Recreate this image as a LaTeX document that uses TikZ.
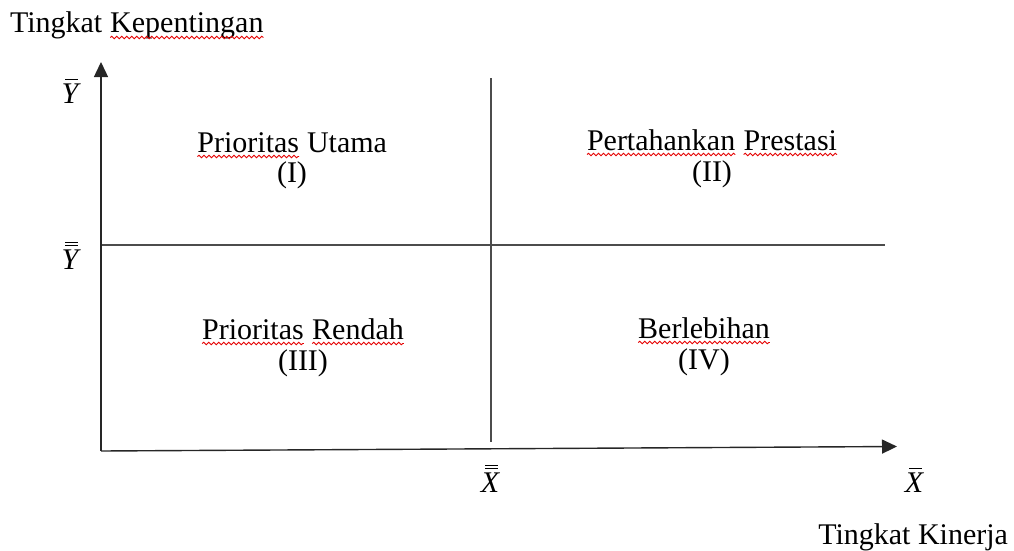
\documentclass[tikz,border=0pt]{standalone}
\usepackage{fontspec}
\setmainfont{Liberation Serif}
\usetikzlibrary{arrows.meta,decorations.pathmorphing}
\newcommand\sqw[1]{\tikz[baseline=(sqwd.base)]{\node[inner sep=0pt,outer sep=0pt] (sqwd) {#1};\draw[squig] ([yshift=-4.5pt]sqwd.base west) -- ([yshift=-4.5pt]sqwd.base east);}}
\newcommand\barrule{\hbox to\wd0{\hfil\kern3pt\vrule width 13pt height 1.4pt depth 0pt\hfil}}
\newcommand\sbar[1]{\setbox0=\hbox{\itshape #1}\vbox{\offinterlineskip\barrule\kern3pt\box0}}
\newcommand\dbar[1]{\setbox0=\hbox{\itshape #1}\vbox{\offinterlineskip\barrule\kern2pt\barrule\kern3pt\box0}}
\tikzset{
  squig/.style={draw=red!90!black, line width=0.9pt, decorate, decoration={snake, amplitude=1.2pt, segment length=5pt}},
  lbl/.style={inner sep=0pt, outer sep=0pt, font=\fontsize{30}{36}\selectfont},
  axis/.style={line width=1.4pt, black!85, -{Triangle[length=15pt,width=14pt]}},
  midline/.style={line width=1.3pt, black!70},
}
\begin{document}
\begin{tikzpicture}[x=1pt,y=-1pt]
\useasboundingbox (0,0) rectangle (1014,551);
\coordinate (O) at (101,451);
\coordinate (ytip) at (101,62);
\coordinate (xtip) at (897,446.5);
\coordinate (vtop) at (491,78);
\coordinate (vbot) at (491,442);
\coordinate (hl) at (101,245);
\coordinate (hr) at (885,245);
\draw[midline] (vtop) -- (vbot);
\draw[midline] (hl) -- (hr);
\draw[axis] (O) -- (ytip);
\draw[axis] (O) -- (xtip);
\node[lbl, anchor=base west] (ylab) at (10,33) {Tingkat \sqw{Kepentingan}};
\node[lbl, anchor=base east] (xlab) at (1008,544) {Tingkat Kinerja};
\node[lbl, anchor=base] (ybar) at (70,103) {\sbar{Y}};
\node[lbl, anchor=base] (ybb) at (70,269) {\dbar{Y}};
\node[lbl, anchor=base] (xbb) at (490,492) {\dbar{X}};
\node[lbl, anchor=base] (xbar) at (914,492) {\sbar{X}};
\node[lbl, anchor=base] (q1a) at (292,152) {\sqw{Prioritas} Utama};
\node[lbl, anchor=base] (q1b) at (292,182) {(I)};
\node[lbl, anchor=base] (q2a) at (712,150) {\sqw{Pertahankan} \sqw{Prestasi}};
\node[lbl, anchor=base] (q2b) at (712,181) {(II)};
\node[lbl, anchor=base] (q3a) at (303,339) {\sqw{Prioritas} \sqw{Rendah}};
\node[lbl, anchor=base] (q3b) at (303,370) {(III)};
\node[lbl, anchor=base] (q4a) at (704,338) {\sqw{Berlebihan}};
\node[lbl, anchor=base] (q4b) at (704,369) {(IV)};
\end{tikzpicture}
\end{document}
